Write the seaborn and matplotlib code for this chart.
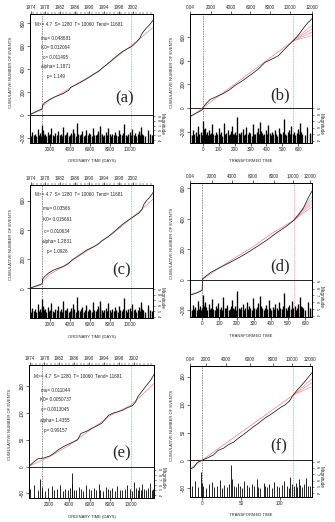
import numpy as np
import pandas as pd
import matplotlib
matplotlib.use("Agg")
import matplotlib.pyplot as plt
from matplotlib.ticker import MultipleLocator
import seaborn as sns

# ------------------------------------------------------------------ data
HEADER = "M>= 4.7  S= 1280  T= 10060  Tend= 11681"
PARAMS_A = ["mu= 0.048681", "K0= 0.012064", "c= 0.011495", "alpha= 1.1871", "p= 1.149"]
PARAMS_C = ["mu= 0.03566", "K0= 0.015661", "c= 0.010634", "alpha= 1.2831", "p= 1.0926"]
PARAMS_E = ["mu= 0.011044", "K0= 0.0050737", "c= 0.0013045", "alpha= 1.4355", "p= 0.99157"]

S_DAY, T_DAY = 1280, 10060
T_TT_B, T_TT_D, T_TT_F = 565, 533, 117

year_labels = ["1974", "1978", "1982", "1986", "1990", "1994", "1998", "2002"]
year_days = [100, 1561, 3022, 4483, 5944, 7405, 8866, 10327]
tt_top_labels = ["0.04", "2000", "4000", "6000", "8000", "10000", "12000"]
b_top_pos = [-80, 50, 176, 299, 422, 548, 684]
d_top_pos = [-72, 55, 172, 293, 416, 529, 631]
f_top_pos = [-15, 5, 31, 62, 91, 115, 139]

# (a) ordinary time, model 1
a_obs_x = [0, 400, 800, 1200, 1270, 1300, 1500, 1900, 2400, 2900, 3400, 3900, 4100, 4600, 5100, 5500,
           6000, 6500, 6900, 7200, 7800, 8300, 8800, 9300, 9800, 10200, 10700, 11000, 11200, 11600, 12000, 12300]
a_obs_y = [0, 18, 35, 50, 56, 85, 105, 128, 152, 170, 188, 215, 240, 262, 285, 305,
           332, 360, 380, 405, 448, 485, 522, 555, 580, 598, 640, 672, 710, 755, 790, 826]
a_mod_x = [0, 1270, 1300, 2000, 3000, 4000, 5000, 6000, 7000, 8000, 9000, 10060, 11000, 12300]
a_mod_y = [0, 45, 70, 130, 180, 232, 285, 335, 392, 458, 528, 600, 665, 765]

# (b) transformed time, model 1
b_obs_x = [-80, -60, -40, -20, -2, 0, 20, 46, 90, 130, 170, 203, 250, 307, 350, 391, 430, 475, 520, 569,
           600, 638, 660, 686]
b_obs_y = [-72, -58, -44, -30, -15, 0, 35, 71, 98, 122, 155, 190, 230, 285, 330, 385, 410, 441, 505, 570,
           615, 684, 720, 755]
b_mod_x = [-80, 565]
b_mod_y = [-80, 565]
b_fan_end = [612, 640, 668, 698]

# (c) ordinary time, model 2
c_obs_x = [0, 400, 800, 1200, 1270, 1300, 1500, 1900, 2400, 2900, 3400, 3900, 4250, 4700, 5200, 5700,
           6200, 6800, 7200, 7800, 8300, 8800, 9300, 9800, 10400, 10900, 11200, 11400, 11600, 12000, 12300]
c_obs_y = [0, 10, 20, 30, 35, 62, 80, 105, 125, 138, 150, 170, 194, 215, 238, 262,
           278, 300, 325, 352, 380, 410, 440, 465, 492, 515, 540, 575, 595, 625, 655]
c_mod_x = [0, 1270, 1300, 2000, 3000, 4000, 5000, 6000, 7000, 8000, 9000, 10060, 11000, 12300]
c_mod_y = [0, 25, 45, 95, 135, 180, 225, 268, 312, 360, 415, 475, 530, 610]

# (d) transformed time, model 2
d_obs_x = [-72, -50, -25, -1, 1, 20, 50, 90, 130, 170, 210, 250, 290, 330, 370, 410, 450, 490, 533,
           560, 590, 615, 640]
d_obs_y = [-102, -95, -85, -70, 5, 22, 48, 72, 95, 118, 142, 168, 196, 225, 255, 288, 320, 350, 389,
           425, 470, 530, 582]
d_mod_x = [-72, -1, 1, 100, 200, 300, 400, 533]
d_mod_y = [-100, -70, 0, 78, 150, 218, 300, 389]
d_fan_end = [478, 500, 522, 545]

# (e) ordinary time, model 3
e_obs_x = [0, 300, 600, 950, 1270, 1300, 1500, 2100, 2500, 2960, 3500, 4140, 4500, 4820, 5000, 5150,
           5700, 6160, 6700, 7170, 7500, 7850, 8300, 8690, 9190, 9700, 10200, 10500, 10700, 11100,
           11540, 12000, 12300]
e_obs_y = [0, 5, 10, 15, 15, 16, 16, 20, 25, 32, 38, 44, 47, 50, 57, 62,
           66, 71, 76, 81, 88, 96, 100, 102, 105, 110, 114, 121, 130, 140,
           151, 162, 172]
e_mod_x = [0, 1280, 2000, 4000, 6000, 8000, 10060, 12300]
e_mod_y = [0, 12, 18, 40, 68, 95, 115, 155]

# (f) transformed time, model 3
f_obs_x = [-15, -10, -6, -2, 0, 8, 15, 21, 28, 34, 41, 47, 55, 64, 72, 81, 88, 96, 101, 106,
           112, 117, 122, 128, 134, 141]
f_obs_y = [-16, -12, -4, -1, 0, 5, 10, 18, 22, 28, 33, 40, 48, 58, 66, 76, 82, 90, 95, 99,
           106, 117, 126, 135, 145, 157]
f_mod_x = [-15, 117]
f_mod_y = [-15, 117]
f_fan_end = [132, 139, 146]

# event magnitudes (dense catalogue of panels a-d)
dense_days = [30, 170, 290, 410, 560, 690, 820, 940, 1080, 1190,
              1278, 1282, 1290, 1310, 1350, 1420, 1530, 1660, 1800, 1930,
              2050, 2190, 2310, 2460, 2580, 2720, 2850, 2990, 3110, 3240,
              3380, 3500, 3650, 3770, 3900, 4030, 4170, 4290, 4300, 4340,
              4460, 4590, 4730, 4860, 4990, 5120, 5260, 5390, 5530, 5650,
              5790, 5920, 6060, 6190, 6320, 6460, 6590, 6730, 6860, 6990,
              7010, 7050, 7180, 7320, 7450, 7580, 7720, 7850, 7990, 8110,
              8250, 8380, 8520, 8650, 8790, 8910, 9050, 9180, 9320, 9450,
              9590, 9710, 9850, 9980, 10110, 10250, 10380, 10520, 10640, 10780,
              10900, 11030, 11090, 11120, 11180, 11310, 11550, 11800, 12050, 12250]
dense_mag = [5.1, 4.9, 5.6, 5.0, 5.3, 4.8, 6.2, 5.0, 5.4, 4.9,
             5.2, 7.1, 5.8, 5.5, 6.0, 5.1, 5.3, 4.9, 5.7, 5.0,
             5.2, 6.5, 5.0, 4.9, 5.4, 5.1, 5.9, 5.0, 5.3, 4.8,
             6.8, 5.1, 5.2, 5.6, 4.9, 5.0, 5.5, 6.3, 5.1, 5.0,
             5.4, 4.9, 7.6, 5.2, 5.0, 5.3, 5.8, 4.9, 5.1, 6.1,
             5.0, 5.4, 5.2, 4.8, 6.6, 5.1, 5.0, 5.3, 5.9, 5.0,
             6.9, 5.5, 5.2, 4.9, 5.1, 5.6, 5.0, 6.4, 5.2, 4.9,
             5.3, 5.0, 5.7, 5.1, 4.8, 6.0, 5.2, 5.0, 5.4, 7.3,
             5.1, 4.9, 5.3, 5.6, 5.0, 6.2, 5.1, 5.4, 4.9, 5.2,
             5.8, 5.0, 6.7, 5.5, 5.3, 5.1, 4.9, 6.1, 5.2, 5.0]
dense_tt_b = [-78, -69, -62, -54, -45, -37, -29, -21, -13, -6,
              0, 3, 7, 11, 15, 19, 24, 31, 38, 45,
              51, 60, 67, 76, 83, 92, 100, 108, 116, 124,
              132, 140, 149, 156, 164, 172, 180, 186, 190, 195,
              202, 210, 218, 226, 234, 242, 250, 258, 267, 274,
              282, 291, 299, 307, 315, 323, 331, 340, 348, 356,
              359, 364, 371, 379, 387, 395, 404, 412, 420, 427,
              436, 444, 452, 460, 469, 476, 484, 492, 501, 509,
              517, 524, 533, 541, 549, 557, 565, 573, 580, 589,
              596, 603, 608, 613, 618, 626, 641, 656, 671, 684]
dense_tt_d = [-70, -62, -56, -49, -41, -33, -26, -19, -12, -5,
              0, 3, 6, 10, 14, 18, 23, 29, 36, 42,
              48, 56, 63, 71, 78, 86, 93, 101, 108, 115,
              123, 130, 139, 146, 153, 161, 169, 175, 179, 183,
              190, 197, 205, 212, 220, 227, 235, 243, 251, 258,
              266, 273, 281, 289, 296, 304, 312, 320, 327, 335,
              338, 342, 349, 357, 364, 372, 380, 387, 395, 402,
              410, 417, 425, 433, 441, 447, 455, 463, 471, 478,
              486, 493, 501, 508, 516, 524, 531, 539, 546, 554,
              561, 568, 572, 576, 581, 589, 602, 616, 629, 638]

# sparse catalogue of panels e-f
e_days = [180, 520, 900, 1150, 1285, 1320, 1600, 1950, 2300, 2500,
          2800, 3100, 3350, 3600, 3850, 4050, 4250, 4300, 4420, 4700,
          4950, 5150, 5300, 5600, 5900, 6150, 6400, 6650, 6900, 7050,
          7300, 7600, 7800, 7950, 8200, 8450, 8700, 8950, 9200, 9450,
          9700, 9950, 10150, 10300, 10500, 10700, 10850, 11000, 11150, 11300,
          11500, 11700, 11900, 12100, 12250]
e_mag = [5.2, 6.0, 5.0, 7.3, 5.6, 5.1, 4.9, 5.4, 5.8, 5.0,
         5.2, 6.1, 4.9, 5.3, 5.0, 5.5, 8.4, 6.2, 5.1, 5.0,
         5.7, 5.2, 4.9, 6.0, 5.3, 5.0, 5.4, 5.1, 6.3, 5.0,
         4.9, 5.6, 5.2, 5.0, 5.5, 4.9, 5.8, 5.1, 5.0, 5.3,
         6.0, 5.2, 4.9, 6.6, 5.4, 5.1, 5.7, 5.0, 6.2, 5.3,
         5.0, 5.5, 6.4, 5.1, 5.2]
f_tt = [-13, -9, -4.5, -1.5, 0.5, 2, 5, 9, 13, 15.5,
        19, 23, 26, 29, 32, 35, 37, 39, 41, 44,
        47, 49, 51, 54, 58, 61, 64, 67, 70.5, 72,
        75, 79, 81.5, 83, 86.5, 89.5, 92.5, 96, 99, 102,
        105, 108.5, 111, 113, 115.5, 118, 120, 122, 124, 126,
        128.5, 131, 133.5, 136, 138.5]

# ------------------------------------------------------------------ style
sns.set_style("ticks")
plt.rcParams["font.family"] = ["Liberation Sans", "DejaVu Sans"]
plt.rcParams["axes.linewidth"] = 0.6
plt.rcParams["axes.edgecolor"] = "black"

BLACK = "#1a1a1a"
PINK = "#f08c8c"
RED_V = "#e87878"
FS = 3.3

W, H = 335.0, 522.0
fig = plt.figure(figsize=(3.35, 5.22), dpi=100)


def rect(x0, x1, y0, y1):
    return [x0 / W, 1 - y1 / H, (x1 - x0) / W, (y1 - y0) / H]


def panel(r, obs_x, obs_y, mod_x, mod_y, xlim, ylim, yticks, xticks, vS, vT,
          ev_x, ev_m, mlim, top_pos, top_lab, xlabel, tag, tagpos,
          fan_end=None, years=False, header=None, params=None, ppos=None, bar_lw=0.95):
    ax = fig.add_axes(r)
    ax2 = ax.twinx()
    ax3 = ax.twiny()

    # magnitude bars
    ax2.vlines(ev_x, mlim[0], ev_m, color="black", lw=bar_lw)
    ax2.set_ylim(*mlim)
    ax2.set_yticks([4, 5, 6, 7, 8, 9])
    ax2.tick_params(axis="y", labelsize=2.8, length=1.5, width=0.4, pad=0.6,
                    labelrotation=-90)
    ax.text(1.075, 0.15, "Magnitude", rotation=270, transform=ax.transAxes,
            ha="center", va="center", fontsize=FS)

    # vertical lines S and T, zero line
    ax.axvline(vS, color="#444444", ls=(0, (1.2, 1.2)), lw=0.5)
    ax.axvline(vT, color=RED_V, ls=(0, (1.2, 1.2)), lw=0.5)
    ax.axhline(0, color="black", lw=0.6)

    # model and fans
    sns.lineplot(x=mod_x, y=mod_y, ax=ax, color=PINK, lw=0.55, estimator=None, sort=False)
    if fan_end is not None:
        rows = []
        for i, ye in enumerate(fan_end):
            rows.append({"x": mod_x[-1], "y": mod_y[-1], "run": i})
            rows.append({"x": xlim[1], "y": ye, "run": i})
        fan = pd.DataFrame(rows)
        sns.lineplot(data=fan, x="x", y="y", units="run", estimator=None, ax=ax,
                     color=PINK, lw=0.45, sort=False)
    # observed
    sns.lineplot(x=obs_x, y=obs_y, ax=ax, color=BLACK, lw=0.55, estimator=None, sort=False)

    ax.set_xlim(*xlim)
    ax.set_ylim(*ylim)
    ax.set_xticks(xticks)
    ax.set_yticks(yticks)
    ax.tick_params(axis="both", direction="out", length=2, width=0.5, labelsize=FS, pad=1)
    ax.tick_params(axis="y", labelrotation=90)
    for lab in ax.get_yticklabels():
        lab.set_va("center")
    ax.set_xlabel(xlabel, fontsize=3.0)
    ax.xaxis.set_label_coords(0.5, -0.125)
    ax.set_ylabel("CUMULATIVE NUMBER OF EVENTS", fontsize=3.0)
    ax.yaxis.set_label_coords(-0.135, 0.55)

    # top axis
    ax3.set_xlim(*xlim)
    ax3.set_xticks(top_pos)
    ax3.set_xticklabels(top_lab)
    ax3.tick_params(axis="x", length=2, width=0.5, labelsize=FS, pad=1)
    if years:
        ax3.xaxis.set_minor_locator(MultipleLocator(365.25))
        ax3.tick_params(axis="x", which="minor", length=1.2, width=0.35)

    for a_ in (ax2, ax3):
        for s in a_.spines.values():
            s.set_linewidth(0.6)

    ax.text(tagpos[0], tagpos[1], tag, transform=ax.transAxes, ha="center", va="center",
            fontsize=12, family=["Liberation Serif", "DejaVu Serif"])
    if header is not None:
        ax.text(0.04, header, HEADER, transform=ax.transAxes, ha="left", va="center",
                fontsize=FS)
    if params is not None:
        for txt, yy in zip(params, ppos[1]):
            ax.text(ppos[0], yy, txt, transform=ax.transAxes, ha="center", va="center",
                    fontsize=FS)
    return ax


XL_ORD = (50, 12300)
ORD_TICKS = [2000, 4000, 6000, 8000, 10000]

panel(rect(30, 153, 14, 143), a_obs_x, a_obs_y, a_mod_x, a_mod_y, XL_ORD, (-246, 881),
      [-200, 0, 200, 400, 600, 800], ORD_TICKS, S_DAY, T_DAY, dense_days, dense_mag,
      (3.375, 30.25), year_days, year_labels, "ORDINARY TIME (DAYS)", "(a)", (0.772, 0.347),
      years=True, header=0.922, params=PARAMS_A,
      ppos=(0.21, [0.812, 0.739, 0.664, 0.592, 0.519]))

panel(rect(190, 312, 14, 143), b_obs_x, b_obs_y, b_mod_x, b_mod_y, (-80, 686), (-297, 794),
      [-200, 0, 200, 400, 600], [0, 100, 200, 300, 400, 500, 600], 0, T_TT_B,
      dense_tt_b, dense_mag, (3.65, 23.5), b_top_pos, tt_top_labels, "TRANSFORMED TIME",
      "(b)", (0.738, 0.372), fan_end=b_fan_end)

panel(rect(30, 153, 185, 318), c_obs_x, c_obs_y, c_mod_x, c_mod_y, XL_ORD, (-203, 707),
      [0, 200, 400, 600], ORD_TICKS, S_DAY, T_DAY, dense_days, dense_mag,
      (3.73, 27.9), year_days, year_labels, "ORDINARY TIME (DAYS)", "(c)", (0.746, 0.361),
      years=True, header=0.932, params=PARAMS_C,
      ppos=(0.22, [0.825, 0.737, 0.654, 0.574, 0.498]))

panel(rect(190, 312, 183, 317), d_obs_x, d_obs_y, d_mod_x, d_mod_y, (-72, 640), (-246, 635),
      [-200, 0, 200, 400, 600], [0, 100, 200, 300, 400, 500, 600], 0, T_TT_D,
      dense_tt_d, dense_mag, (3.85, 23.4), d_top_pos, tt_top_labels, "TRANSFORMED TIME",
      "(d)", (0.738, 0.375), fan_end=d_fan_end)

panel(rect(29, 154, 365, 498), e_obs_x, e_obs_y, e_mod_x, e_mod_y, XL_ORD, (-58.6, 189.7),
      [-50, 0, 50, 100, 150], ORD_TICKS, S_DAY, T_DAY, e_days, e_mag,
      (3.4, 30), year_days, year_labels, "ORDINARY TIME (DAYS)", "(e)", (0.742, 0.336),
      years=True, header=0.912, params=PARAMS_E,
      ppos=(0.21, [0.812, 0.737, 0.662, 0.586, 0.511]), bar_lw=0.6)

panel(rect(190, 312, 366, 497), f_obs_x, f_obs_y, f_mod_x, f_mod_y, (-15, 141), (-65.4, 169),
      [-50, 0, 50, 100, 150], [0, 50, 100], 0, T_TT_F,
      f_tt, e_mag, (3.41, 24.1), f_top_pos, tt_top_labels, "TRANSFORMED TIME",
      "(f)", (0.724, 0.384), fan_end=f_fan_end, bar_lw=0.6)

fig.savefig("out.png", dpi=100)
